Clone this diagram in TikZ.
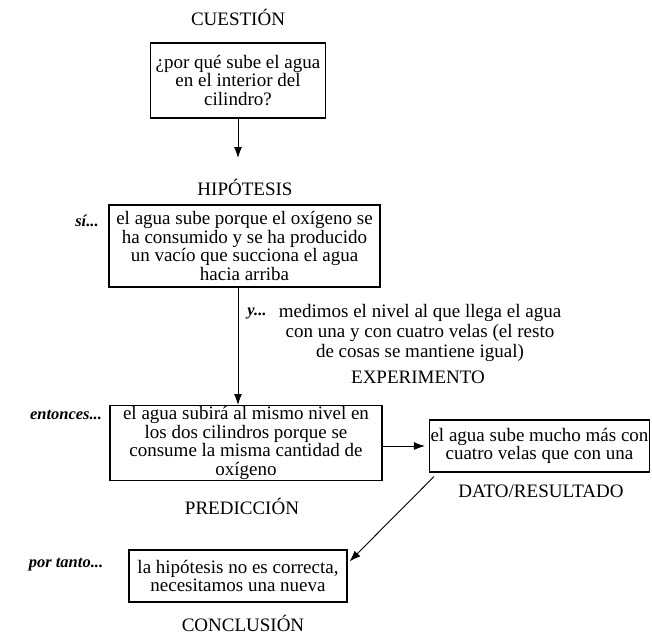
\documentclass[tikz,border=0pt]{standalone}
\usepackage{fontspec}
\setmainfont{Liberation Serif}
\usetikzlibrary{arrows.meta}

\begin{document}
\begin{tikzpicture}[x=1pt,y=-1pt]
% carattere del testo
\tikzset{testo/.style={font=\fontsize{19}{18.5}\selectfont}}
% caja con borde
\tikzset{caja/.style={testo,rectangle,draw,line width=1.2pt,align=center,inner sep=1pt}}
% note in corsivo a sinistra
\tikzset{nota/.style={font=\fontsize{16.5}{18}\selectfont\bfseries\itshape}}
% frecce
\tikzset{flecha/.style={line width=0.9pt,-{Latex[length=11pt,width=8pt]}}}

\useasboundingbox (0,0) rectangle (652,635);

%----
% inserimento caselle
\node[caja,minimum width=175pt,minimum height=75pt] (cuestion) at (238,80.5)
  {¿por qué sube el agua\\en el interior del\\cilindro?};
\node[caja,minimum width=271pt,minimum height=82pt] (hipotesis) at (244.5,246)
  {el agua sube porque el oxígeno se\\ha consumido y se ha producido\\un vacío que succiona el agua\\hacia arriba};
\node[caja,minimum width=272pt,minimum height=74pt] (prediccion) at (246,443)
  {el agua subirá al mismo nivel en\\los dos cilindros porque se\\consume la misma cantidad de\\oxígeno};
\node[caja,minimum width=219pt,minimum height=52pt] (dato) at (539.5,446)
  {el agua sube mucho más con\\cuatro velas que con una};
\node[caja,minimum width=218pt,minimum height=52pt] (conclusion) at (238,576)
  {la hipótesis no es correcta,\\necesitamos una nueva};

% inserimento titoli
\foreach \p/\nome/\testo in {{(238,17)/tcue/CUESTIÓN},{(245,187)/thip/HIPÓTESIS},
  {(418,377)/texp/EXPERIMENTO},{(242,506)/tpre/PREDICCIÓN},{(243,623)/tcon/CONCLUSIÓN}}
\node[testo] (\nome) at \p {\testo};
\node[testo] (tdat) at (541,491) {DATO/RESULTADO};

% inserimento note
\node[nota] (si) at (87,221) {sí...};
\node[nota] (entonces) at (66,415) {entonces...};
\node[nota] (portanto) at (66,565) {por tanto...};
\node[nota] (y) at (257,313) {y...};
\node[testo,align=center,font=\fontsize{19}{20}\selectfont] (medimos) at (420,333)
  {medimos el nivel al que llega el agua\\con una y con cuatro velas (el resto\\de cosas se mantiene igual)};

% inserimento frecce
\coordinate (eje) at (238,0);
\coordinate (finhip) at (238,158);
\draw[flecha] (cuestion.south) -- (finhip);
\draw[flecha] (hipotesis.south -| eje) -- (prediccion.north -| eje);
\draw[flecha,shorten >=4pt] (prediccion.east |- dato.west) -- (dato.west);
\draw[flecha] ([xshift=5pt,yshift=-4pt]dato.south west) -- ([xshift=2pt,yshift=-12pt]conclusion.north east);
\end{tikzpicture}
\end{document}
